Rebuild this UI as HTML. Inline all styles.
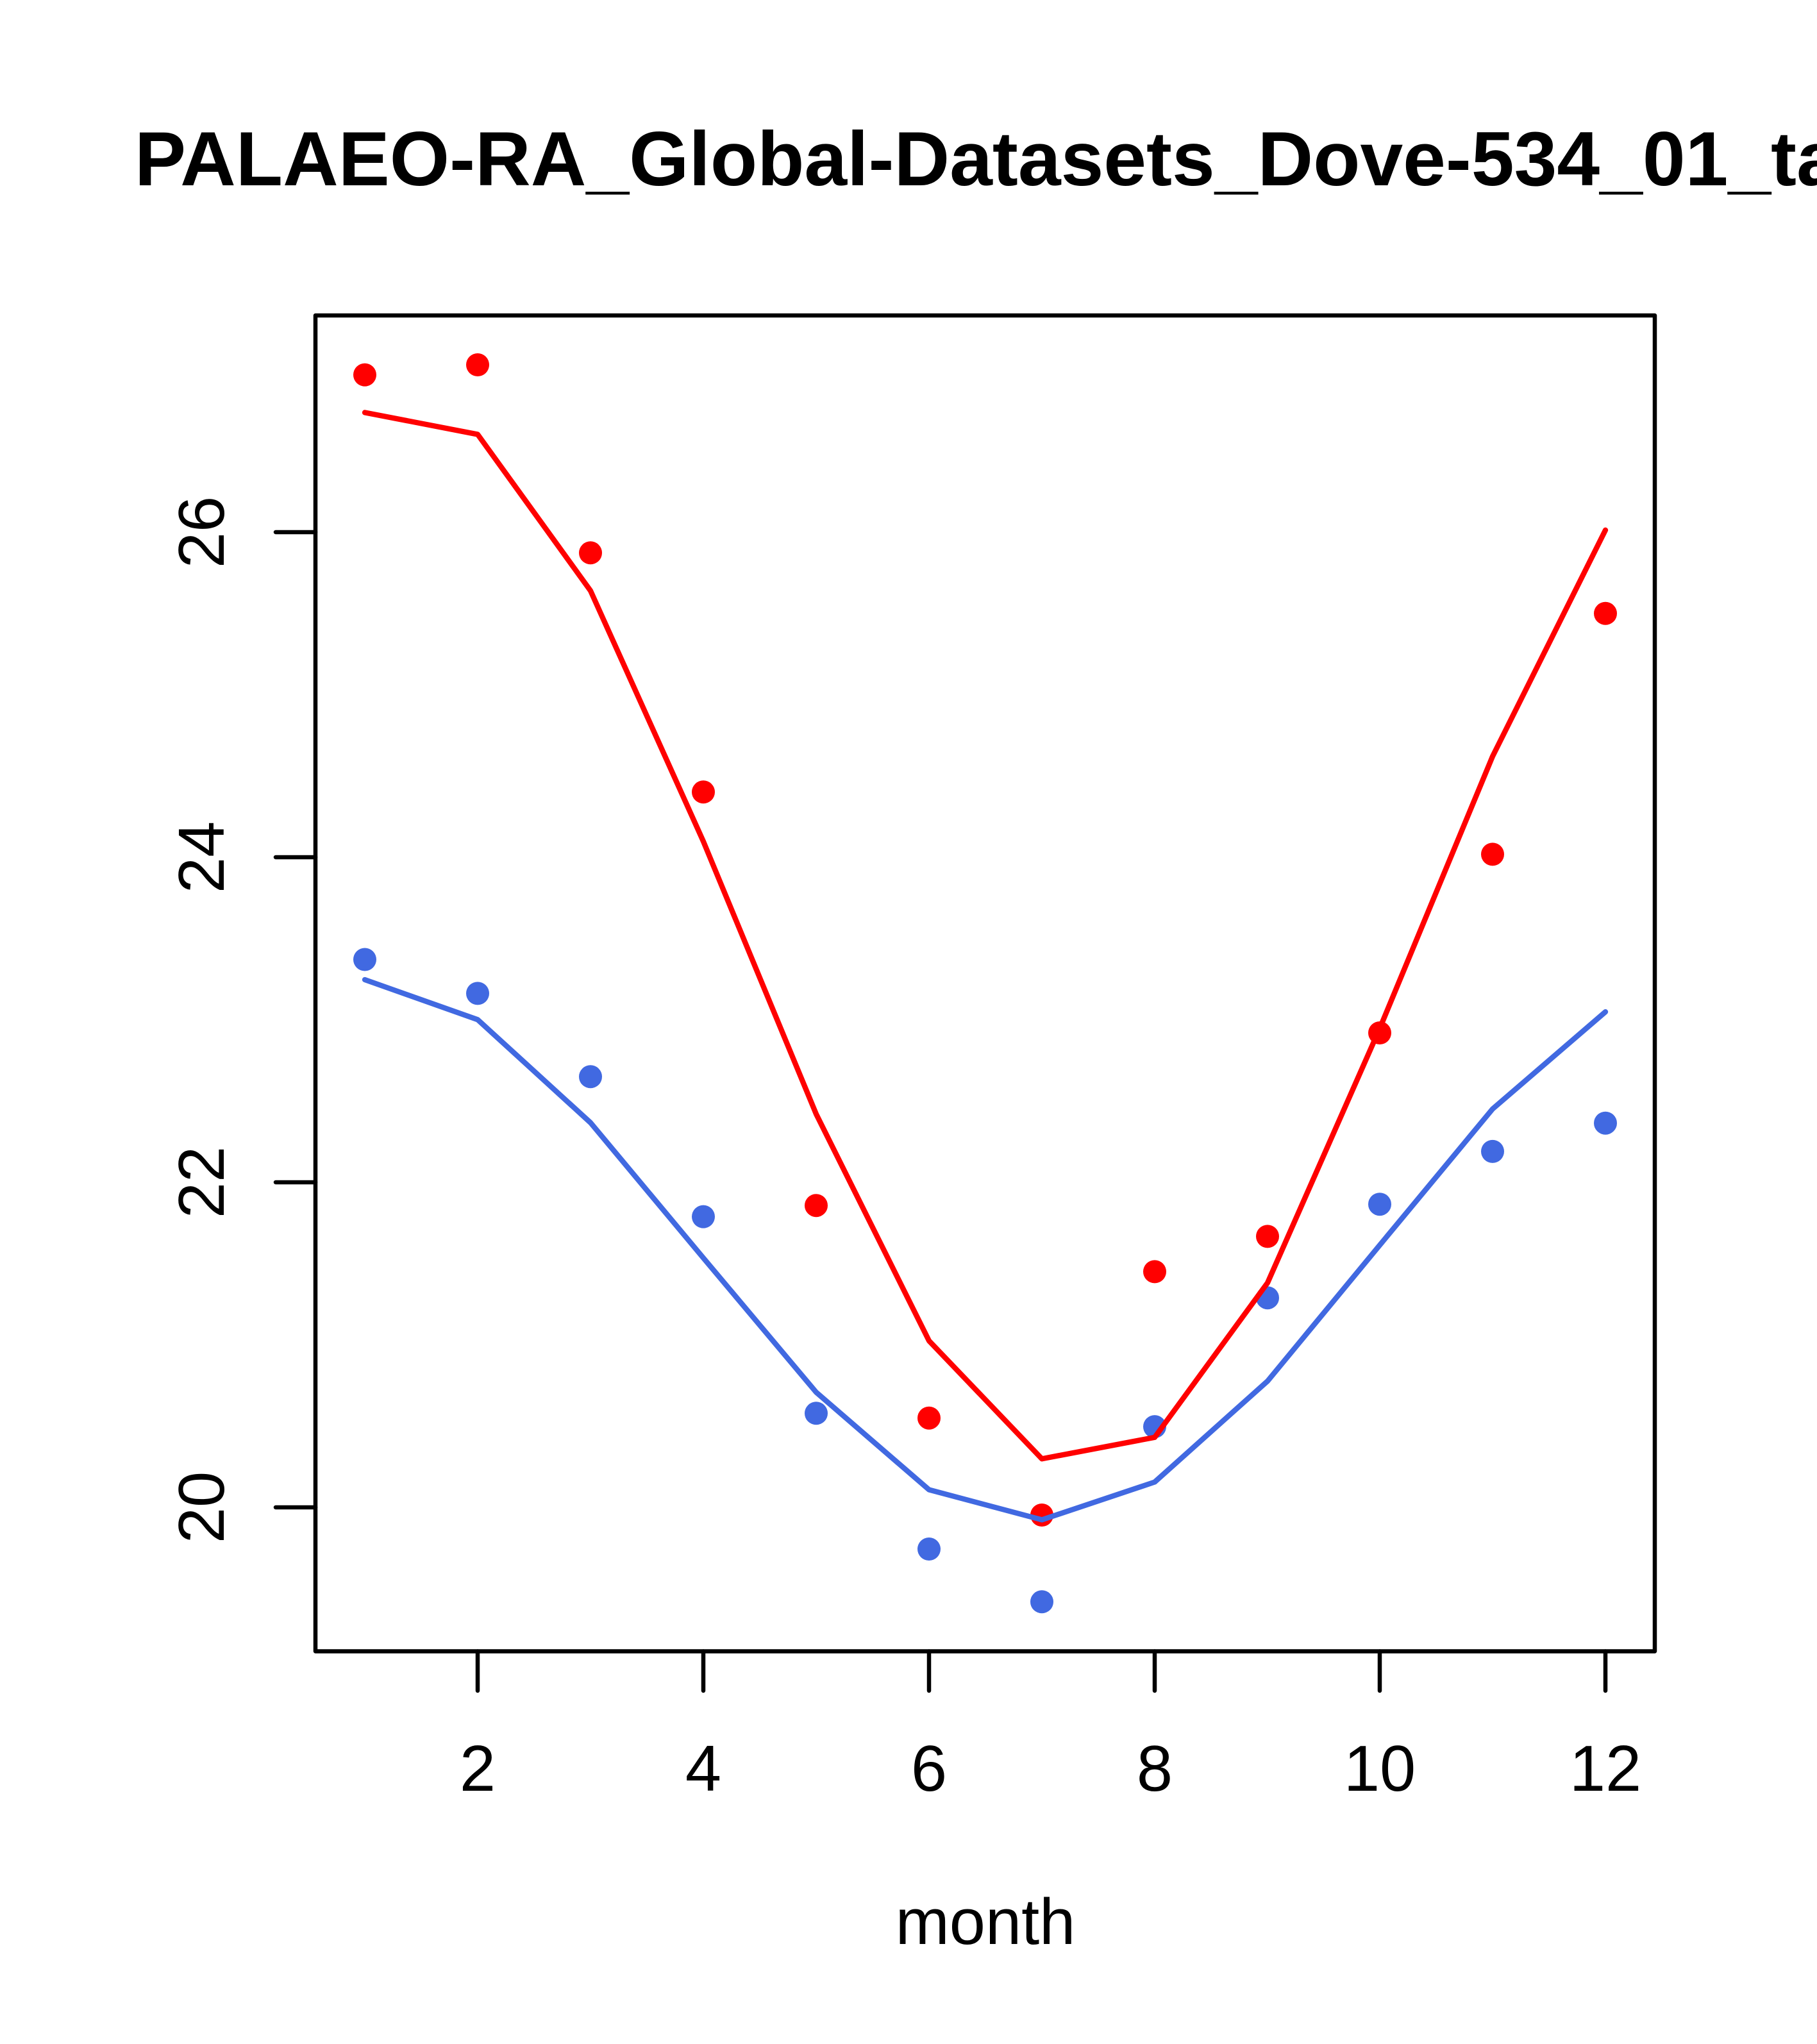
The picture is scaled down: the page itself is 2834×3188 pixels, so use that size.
<!DOCTYPE html>
<html>
<head>
<meta charset="utf-8">
<style>
html,body{margin:0;padding:0;background:#fff;}
svg{display:block;}
</style>
</head>
<body>
<svg xmlns="http://www.w3.org/2000/svg" width="2834" height="3188" viewBox="0 0 2834 3188">
<rect x="0" y="0" width="2834" height="3188" fill="#ffffff"/>
<!-- Title -->
<text x="210" y="289" font-family="Liberation Sans, Arial, sans-serif" font-weight="bold" font-size="120" fill="#000">PALAEO-RA_Global-Datasets_Dove-534_01_ta</text>

<!-- Points (drawn first) -->
<g fill="#FF0000">
<circle cx="569" cy="584.6" r="18"/>
<circle cx="745" cy="569" r="18"/>
<circle cx="921" cy="862.3" r="18"/>
<circle cx="1097" cy="1235.3" r="18"/>
<circle cx="1273" cy="1880.2" r="18"/>
<circle cx="1449" cy="2211.7" r="18"/>
<circle cx="1625" cy="2363" r="18"/>
<circle cx="1801" cy="1983.4" r="18"/>
<circle cx="1977" cy="1928.4" r="18"/>
<circle cx="2152" cy="1611" r="18"/>
<circle cx="2328" cy="1332.4" r="18"/>
<circle cx="2504" cy="956.8" r="18"/>
</g>
<g fill="#4169E1">
<circle cx="569" cy="1496.5" r="18"/>
<circle cx="745" cy="1549.4" r="18"/>
<circle cx="921" cy="1679.3" r="18"/>
<circle cx="1097" cy="1897.6" r="18"/>
<circle cx="1273" cy="2204.3" r="18"/>
<circle cx="1449" cy="2416" r="18"/>
<circle cx="1625" cy="2498.3" r="18"/>
<circle cx="1801" cy="2225.1" r="18"/>
<circle cx="1977" cy="2024.2" r="18"/>
<circle cx="2152" cy="1878.2" r="18"/>
<circle cx="2328" cy="1795.9" r="18"/>
<circle cx="2504" cy="1751.7" r="18"/>
</g>

<!-- Lines -->
<polyline fill="none" stroke="#FF0000" stroke-width="8.3" stroke-linecap="round" stroke-linejoin="round"
 points="569,643.4 745,677.5 921,921.3 1097,1312.3 1273,1737.6 1449,2091.2 1625,2275.3 1801,2241.8 1977,2000.8 2152,1604 2328,1179.7 2504,826.8"/>
<polyline fill="none" stroke="#4169E1" stroke-width="8.3" stroke-linecap="round" stroke-linejoin="round"
 points="569,1528 745,1590.3 921,1751 1097,1962 1273,2171.5 1449,2323.5 1625,2370.4 1801,2311.5 1977,2154.1 2152,1942 2328,1729.6 2504,1578.2"/>

<!-- Box -->
<rect x="492" y="492" width="2089" height="2083.5" fill="none" stroke="#000" stroke-width="6.5" stroke-linejoin="round"/>

<!-- Ticks -->
<g stroke="#000" stroke-width="6.5" stroke-linecap="round">
<line x1="430" y1="830" x2="492" y2="830"/>
<line x1="430" y1="1337" x2="492" y2="1337"/>
<line x1="430" y1="1844" x2="492" y2="1844"/>
<line x1="430" y1="2351" x2="492" y2="2351"/>
<line x1="745" y1="2575.5" x2="745" y2="2637"/>
<line x1="1097" y1="2575.5" x2="1097" y2="2637"/>
<line x1="1449" y1="2575.5" x2="1449" y2="2637"/>
<line x1="1801" y1="2575.5" x2="1801" y2="2637"/>
<line x1="2152" y1="2575.5" x2="2152" y2="2637"/>
<line x1="2504" y1="2575.5" x2="2504" y2="2637"/>
</g>

<!-- Y labels -->
<g font-family="Liberation Sans, Arial, sans-serif" font-size="101" fill="#000" text-anchor="middle">
<text transform="translate(349,830) rotate(-90)">26</text>
<text transform="translate(349,1337) rotate(-90)">24</text>
<text transform="translate(349,1844) rotate(-90)">22</text>
<text transform="translate(349,2351) rotate(-90)">20</text>
</g>

<!-- X labels -->
<g font-family="Liberation Sans, Arial, sans-serif" font-size="101" fill="#000" text-anchor="middle">
<text x="745" y="2793">2</text>
<text x="1097" y="2793">4</text>
<text x="1449" y="2793">6</text>
<text x="1801" y="2793">8</text>
<text x="2152" y="2793">10</text>
<text x="2504" y="2793">12</text>
<text x="1537" y="3032">month</text>
</g>
</svg>
</body>
</html>
